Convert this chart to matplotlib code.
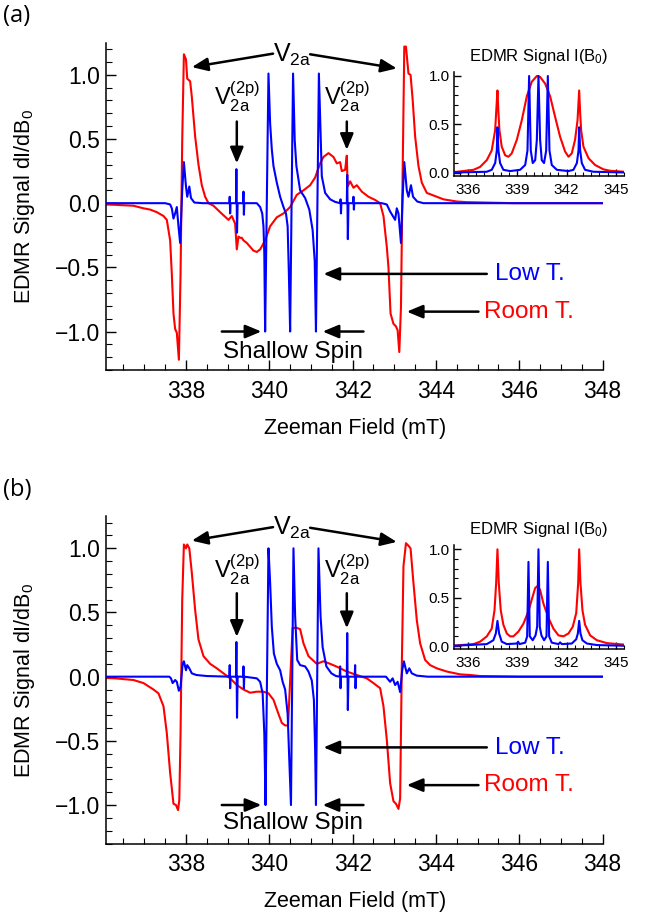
import matplotlib
matplotlib.use('Agg')
import matplotlib.pyplot as plt
from matplotlib.ticker import MultipleLocator

plt.rcParams['font.family'] = ['Liberation Sans', 'DejaVu Sans']
plt.rcParams['mathtext.default'] = 'regular'

# ---- panel (a), derivative spectra (mT, dI/dB0) ----
field_red_a = [336.08, 336.30, 336.74, 336.98, 337.14, 337.30, 337.46, 337.54, 337.62, 337.66,
               337.70, 337.74, 337.78, 337.83, 337.87, 337.91, 337.95, 338.00, 338.03, 338.10,
               338.14, 338.22, 338.30, 338.38, 338.46, 338.54, 338.66, 338.82, 339.02, 339.10,
               339.18, 339.22, 339.26, 339.30, 339.34, 339.38, 339.46, 339.54, 339.62, 339.70,
               339.78, 339.90, 340.02, 340.18, 340.34, 340.50, 340.66, 340.82, 340.98, 341.10,
               341.22, 341.30, 341.42, 341.54, 341.62, 341.70, 341.74, 341.82, 341.86, 341.88,
               341.94, 342.02, 342.10, 342.22, 342.38, 342.54, 342.66, 342.74, 342.82, 342.86,
               342.91, 342.98, 343.04, 343.08, 343.12, 343.16, 343.20, 343.24, 343.28, 343.34,
               343.39, 343.44, 343.50, 343.58, 343.66, 343.78, 343.94, 344.18, 344.50, 344.74,
               345.86, 348.02]
signal_red_a = [-0.01, -0.013, -0.02, -0.04, -0.05, -0.07, -0.10, -0.13, -0.29, -0.55,
                -0.86, -0.98, -1.01, -1.22, -0.55, 0.49, 1.16, 1.12, 0.97, 0.95,
                0.83, 0.52, 0.30, 0.14, 0.05, 0.0, -0.02, -0.07, -0.13, -0.10,
                -0.16, -0.36, -0.26, -0.27, -0.27, -0.29, -0.31, -0.34, -0.37, -0.38,
                -0.36, -0.29, -0.18, -0.11, -0.08, -0.03, 0.065, 0.10, 0.14, 0.20,
                0.31, 0.36, 0.39, 0.36, 0.31, 0.32, 0.25, 0.26, 0.37, 0.13,
                0.17, 0.12, 0.14, 0.09, 0.05, 0.025, 0.0, -0.10, -0.34, -0.50,
                -0.86, -0.94, -0.96, -0.99, -1.16, -0.81, 0.23, 1.22, 1.22, 1.01,
                1.0, 0.81, 0.52, 0.29, 0.16, 0.08, 0.06, 0.03, 0.013, 0.008,
                0.0, 0.0]

field_blue_a = [336.08, 337.50, 337.62, 337.66, 337.70, 337.74, 337.78, 337.82, 337.86, 337.91,
                337.95, 338.00, 338.03, 338.08, 338.12, 338.20, 338.40, 339.04, 339.05, 339.06,
                339.07, 339.20, 339.21, 339.225, 339.24, 339.37, 339.38, 339.39, 339.40, 339.70,
                339.78, 339.83, 339.86, 339.88, 339.90, 339.98, 340.02, 340.06, 340.10, 340.18,
                340.26, 340.34, 340.40, 340.44, 340.47, 340.50, 340.57, 340.61, 340.65, 340.74,
                340.86, 340.96, 341.04, 341.09, 341.12, 341.19, 341.26, 341.34, 341.46, 341.58,
                341.70, 341.71, 341.72, 341.73, 341.86, 341.87, 341.885, 341.90, 342.01, 342.02,
                342.03, 342.04, 342.70, 342.82, 342.90, 343.02, 343.06, 343.10, 343.16, 343.20,
                343.24, 343.30, 343.34, 343.40, 343.45, 343.55, 343.70, 348.02]
signal_blue_a = [0.0, 0.0, -0.01, -0.04, -0.12, -0.08, -0.03, -0.18, -0.31, 0.10,
                 0.32, 0.13, 0.05, 0.13, 0.04, 0.005, 0.0, 0.0, 0.05, -0.08,
                 0.0, 0.0, 0.265, -0.23, 0.0, 0.0, 0.09, -0.09, 0.0, 0.0,
                 -0.03, -0.08, -0.18, -0.39, -1.0, 1.01, 0.62, 0.42, 0.29, 0.16,
                 0.05, -0.03, -0.08, -0.18, -0.55, -1.0, 1.01, 0.49, 0.29, 0.10,
                 0.04, -0.05, -0.21, -0.45, -1.0, 1.01, 0.21, 0.08, 0.03, 0.01,
                 0.0, 0.03, -0.08, 0.0, 0.0, 0.22, -0.28, 0.0, 0.0, 0.05,
                 -0.05, 0.0, 0.0, -0.01, -0.065, -0.13, -0.04, -0.08, -0.31, 0.05,
                 0.32, 0.10, 0.05, 0.14, 0.05, 0.013, 0.0, 0.0]

# ---- panel (b) ----
field_red_b = [336.08, 336.30, 336.74, 336.98, 337.22, 337.34, 337.46, 337.54, 337.62, 337.70,
               337.76, 337.81, 337.84, 337.87, 337.91, 337.95, 338.00, 338.03, 338.08, 338.14,
               338.22, 338.30, 338.42, 338.58, 338.74, 338.90, 339.06, 339.22, 339.38, 339.54,
               339.70, 339.86, 339.98, 340.10, 340.22, 340.30, 340.38, 340.45, 340.56, 340.66,
               340.74, 340.82, 340.94, 341.14, 341.30, 341.46, 341.62, 341.86, 342.10, 342.34,
               342.50, 342.66, 342.74, 342.82, 342.90, 342.98, 343.04, 343.10, 343.14, 343.18,
               343.22, 343.28, 343.34, 343.39, 343.46, 343.54, 343.62, 343.74, 343.86, 344.02,
               344.26, 344.58, 344.82, 345.06, 346.00, 348.02]
signal_red_b = [-0.01, -0.013, -0.026, -0.05, -0.10, -0.13, -0.23, -0.44, -0.75, -0.99,
                -1.0, -1.04, -0.96, -0.44, 0.60, 1.03, 1.00, 1.03, 1.00, 0.81,
                0.52, 0.29, 0.16, 0.10, 0.065, 0.026, -0.013, -0.065, -0.10, -0.125,
                -0.117, -0.117, -0.13, -0.18, -0.29, -0.36, -0.38, -0.38, 0.38, 0.38,
                0.37, 0.26, 0.16, 0.10, 0.12, 0.10, 0.078, 0.04, 0.013, -0.013,
                -0.05, -0.09, -0.23, -0.49, -0.83, -0.97, -0.99, -1.03, -0.95, 0.08,
                0.86, 1.04, 1.02, 1.00, 0.73, 0.44, 0.26, 0.13, 0.09, 0.065,
                0.04, 0.018, 0.013, 0.005, 0.0, 0.0]

field_blue_b = [336.08, 337.60, 337.64, 337.68, 337.74, 337.78, 337.83, 337.87, 337.92, 337.95,
                338.00, 338.03, 338.08, 338.14, 338.25, 338.50, 339.04, 339.05, 339.06, 339.07,
                339.20, 339.21, 339.225, 339.24, 339.37, 339.38, 339.39, 339.40, 339.70, 339.78,
                339.84, 339.88, 339.91, 339.98, 340.02, 340.06, 340.11, 340.18, 340.26, 340.32,
                340.38, 340.44, 340.48, 340.52, 340.58, 340.62, 340.67, 340.74, 340.86, 340.94,
                341.02, 341.07, 341.10, 341.12, 341.18, 341.23, 341.28, 341.37, 341.49, 341.60,
                341.69, 341.70, 341.71, 341.72, 341.86, 341.87, 341.885, 341.90, 342.05, 342.06,
                342.07, 342.08, 342.80, 342.90, 342.96, 343.02, 343.08, 343.14, 343.19, 343.23,
                343.30, 343.36, 343.42, 343.54, 343.80, 348.02]
signal_blue_b = [0.0, 0.0, -0.013, -0.05, -0.026, -0.04, -0.11, -0.08, 0.10, 0.12,
                 0.05, 0.09, 0.065, 0.026, 0.013, 0.005, 0.0, 0.09, -0.09, 0.0,
                 0.0, 0.27, -0.32, 0.0, 0.0, 0.08, -0.09, 0.0, -0.013, -0.04,
                 -0.13, -0.44, -1.0, 1.0, 0.73, 0.39, 0.18, 0.10, 0.05, -0.04,
                 -0.10, -0.29, -0.65, -1.0, 1.0, 0.47, 0.13, 0.09, 0.08, 0.04,
                 -0.03, -0.18, -0.57, -1.0, 1.0, 0.47, 0.23, 0.08, 0.026, 0.005,
                 0.0, 0.08, -0.09, 0.0, 0.0, 0.34, -0.26, 0.0, 0.0, 0.09,
                 -0.09, 0.0, 0.0, -0.04, -0.013, -0.065, -0.04, -0.12, 0.05, 0.12,
                 0.026, 0.065, 0.026, 0.008, 0.0, 0.0]

# ---- insets, integrated signal I(B0) ----
field_red_ia = [335.14, 335.35, 336.33, 336.73, 337.14, 337.44, 337.65, 337.72, 337.79, 337.85,
                337.91, 338.05, 338.26, 338.46, 338.66, 338.97, 339.27, 339.58, 339.88, 340.19,
                340.39, 340.70, 341.00, 341.30, 341.61, 341.91, 342.12, 342.32, 342.52, 342.67,
                342.77, 342.83, 342.89, 343.03, 343.34, 343.74, 344.25, 344.66, 345.50]
intens_red_ia = [0.008, 0.01, 0.03, 0.06, 0.13, 0.23, 0.44, 0.65, 0.85, 0.62,
                 0.44, 0.27, 0.18, 0.165, 0.20, 0.34, 0.54, 0.79, 0.94, 1.0,
                 0.99, 0.92, 0.79, 0.58, 0.37, 0.22, 0.165, 0.20, 0.34, 0.54,
                 0.85, 0.62, 0.44, 0.27, 0.15, 0.08, 0.035, 0.02, 0.01]

field_blue_ia = [335.14, 335.35, 337.14, 337.44, 337.65, 337.75, 337.79, 337.85, 337.95, 338.15,
                 338.56, 339.17, 339.48, 339.62, 339.72, 339.82, 339.94, 340.09, 340.19, 340.29,
                 340.39, 340.49, 340.63, 340.76, 340.86, 340.96, 341.10, 341.41, 342.12, 342.42,
                 342.63, 342.73, 342.77, 342.83, 342.93, 343.13, 343.64, 345.50]
intens_blue_ia = [0.003, 0.003, 0.01, 0.03, 0.10, 0.23, 0.47, 0.23, 0.10, 0.03,
                  0.017, 0.03, 0.08, 0.23, 1.0, 0.23, 0.10, 0.13, 0.34, 1.0,
                  0.34, 0.13, 0.10, 0.23, 1.0, 0.23, 0.08, 0.03, 0.017, 0.03,
                  0.10, 0.23, 0.47, 0.23, 0.10, 0.03, 0.01, 0.003]

field_red_ib = [335.14, 335.35, 336.33, 336.73, 337.14, 337.44, 337.61, 337.71, 337.79, 337.87,
                337.99, 338.15, 338.36, 338.56, 338.76, 339.07, 339.37, 339.68, 339.88, 340.09,
                340.23, 340.39, 340.59, 340.90, 341.20, 341.51, 341.81, 342.12, 342.38, 342.59,
                342.71, 342.77, 342.85, 342.97, 343.13, 343.44, 343.85, 344.46, 345.50]
intens_red_ib = [0.005, 0.007, 0.02, 0.045, 0.10, 0.18, 0.37, 0.65, 1.0, 0.65,
                 0.37, 0.22, 0.13, 0.10, 0.10, 0.15, 0.23, 0.36, 0.48, 0.60,
                 0.62, 0.58, 0.44, 0.29, 0.18, 0.11, 0.10, 0.13, 0.20, 0.34,
                 0.65, 1.0, 0.65, 0.37, 0.22, 0.11, 0.06, 0.03, 0.015]

field_blue_ib = [335.14, 337.14, 337.54, 337.69, 337.79, 337.89, 338.05, 338.36, 338.97, 339.05,
                 339.13, 339.48, 339.60, 339.68, 339.76, 339.94, 340.11, 340.21, 340.29, 340.37,
                 340.47, 340.63, 340.78, 340.86, 340.94, 341.10, 341.51, 341.61, 341.71, 342.32,
                 342.59, 342.69, 342.77, 342.85, 342.97, 343.24, 343.85, 345.50]
intens_blue_ib = [0.003, 0.02, 0.06, 0.13, 0.26, 0.13, 0.045, 0.02, 0.026, 0.045,
                  0.02, 0.035, 0.10, 0.87, 0.10, 0.06, 0.11, 0.20, 1.0, 0.20,
                  0.11, 0.06, 0.10, 0.87, 0.10, 0.035, 0.02, 0.038, 0.02, 0.026,
                  0.07, 0.13, 0.26, 0.13, 0.06, 0.026, 0.01, 0.003]

main_yticks = [-1.0, -0.5, 0.0, 0.5, 1.0]
main_ylabels = ['\u22121.0', '\u22120.5', '0.0', '0.5', '1.0']
main_xticks = [338, 340, 342, 344, 346, 348]
inset_xticks = [336, 339, 342, 345]
inset_yticks = [0.0, 0.5, 1.0]

RED = '#ff0000'
BLUE = '#0000ff'

fig = plt.figure(figsize=(6.55, 9.23), dpi=100)


def style(ax, big):
    for s in ['top', 'right']:
        ax.spines[s].set_visible(False)
    for s in ['left', 'bottom']:
        ax.spines[s].set_linewidth(1.1)
    if big:
        ax.tick_params(which='major', direction='in', length=7, width=1.0, labelsize=16.5)
        ax.tick_params(which='minor', direction='in', length=4, width=0.8)
        ax.tick_params(axis='x', which='major', pad=7)
        ax.tick_params(axis='y', which='major', pad=4)
    else:
        ax.tick_params(which='major', direction='in', length=5, width=1.0, labelsize=11)
        ax.tick_params(which='minor', direction='in', length=3, width=0.8)
        ax.tick_params(axis='x', which='major', pad=5)
        ax.tick_params(axis='y', which='major', pad=3)


def arrow(ax, start, tip):
    ax.annotate('', xy=tip, xytext=start,
                arrowprops=dict(arrowstyle='-|>,head_length=0.6,head_width=0.25',
                                color='k', lw=1.8, mutation_scale=16,
                                shrinkA=0, shrinkB=0))


panels = [
    dict(bottom=0.5991, ins_bottom=0.8092, label='(a)', label_y=1 - 16.5 / 923,
         red=(field_red_a, signal_red_a), blue=(field_blue_a, signal_blue_a),
         ired=(field_red_ia, intens_red_ia), iblue=(field_blue_ia, intens_blue_ia),
         tip_r2p=0.415, start2p=0.636, shallow_y=-1.157, low_y=-0.548),
    dict(bottom=0.0861, ins_bottom=0.2964, label='(b)', label_y=1 - 489.5 / 923,
         red=(field_red_b, signal_red_b), blue=(field_blue_b, signal_blue_b),
         ired=(field_red_ib, intens_red_ib), iblue=(field_blue_ib, intens_blue_ib),
         tip_r2p=0.377, start2p=0.65, shallow_y=-1.143, low_y=-0.558),
]

for p in panels:
    ax = fig.add_axes([0.1618, p['bottom'], 0.7595, 0.3546])
    ax.plot(*p['red'], color=RED, lw=1.5, zorder=2)
    ax.plot(*p['blue'], color=BLUE, lw=1.5, zorder=3)
    ax.set_xlim(336.08, 348.02)
    ax.set_ylim(-1.30, 1.25)
    style(ax, True)
    ax.set_xticks(main_xticks)
    ax.xaxis.set_minor_locator(MultipleLocator(0.5))
    ax.set_yticks(main_yticks)
    ax.set_yticklabels(main_ylabels)
    ax.yaxis.set_minor_locator(MultipleLocator(0.1))
    ax.set_xlabel('Zeeman Field (mT)', fontsize=15.5)
    ax.set_ylabel('EDMR Signal dI/dB$_0$', fontsize=15.5)
    ax.xaxis.set_label_coords(0.5, -0.146)
    ax.yaxis.set_label_coords(-0.139, 0.5)

    # annotations
    ax.text(340.54, 1.156, 'V$_{2a}$', fontsize=18, ha='center', va='center')
    arrow(ax, (340.09, 1.165), (338.14, 1.06))
    arrow(ax, (340.98, 1.160), (343.06, 1.05))
    ax.text(339.22, 0.83, 'V$_{2a}^{(2p)}$', fontsize=17, ha='center', va='center')
    ax.text(341.86, 0.83, 'V$_{2a}^{(2p)}$', fontsize=17, ha='center', va='center')
    arrow(ax, (339.22, p['start2p']), (339.22, 0.31))
    arrow(ax, (341.86, p['start2p']), (341.86, p['tip_r2p']))
    ax.text(340.56, p['shallow_y'], 'Shallow Spin', fontsize=17.5, ha='center', va='center')
    arrow(ax, (338.86, -1.0), (339.81, -1.0))
    arrow(ax, (342.26, -1.0), (341.28, -1.0))
    ax.text(345.42, p['low_y'], 'Low T.', fontsize=17.5, color=BLUE, ha='left', va='center')
    arrow(ax, (345.22, -0.551), (341.30, -0.551))
    ax.text(345.16, -0.845, 'Room T.', fontsize=17.5, color=RED, ha='left', va='center')
    arrow(ax, (345.02, -0.845), (343.30, -0.845))

    # inset
    ins = fig.add_axes([0.6931, p['ins_bottom'], 0.2595, 0.1132])
    ins.patch.set_alpha(0)
    ins.plot(*p['ired'], color=RED, lw=1.5, zorder=2)
    ins.plot(*p['iblue'], color=BLUE, lw=1.5, zorder=3)
    ins.set_xlim(335.14, 345.5)
    ins.set_ylim(-0.035, 1.045)
    style(ins, False)
    ins.set_xticks(inset_xticks)
    ins.xaxis.set_minor_locator(MultipleLocator(0.5))
    ins.set_yticks(inset_yticks)
    ins.yaxis.set_minor_locator(MultipleLocator(0.1))
    ins.set_title('EDMR Signal I(B$_0$)', fontsize=12, pad=8)

    fig.text(0.004, p['label_y'], p['label'], fontsize=17, va='center', ha='left',
             family=['Open Sans', 'DejaVu Sans'])

plt.savefig('out.png', dpi=100)
plt.close()
